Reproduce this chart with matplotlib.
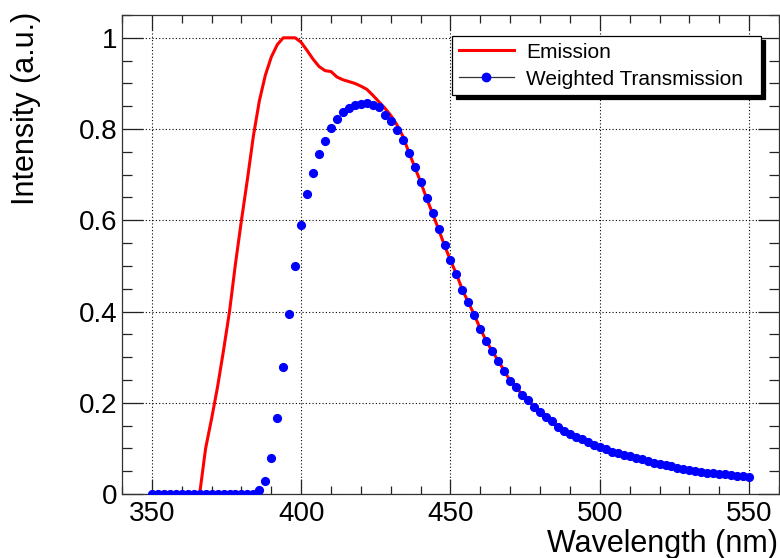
import numpy as np
import matplotlib
matplotlib.use("Agg")
import matplotlib.pyplot as plt
from matplotlib.lines import Line2D
from matplotlib.ticker import MultipleLocator

plt.rcParams['font.family'] = ['Liberation Sans', 'DejaVu Sans']

# ---- data ----
em_wl = [350, 366, 368, 370, 372, 374, 376, 378, 380, 382, 384, 386, 388, 390,
         392, 394, 396, 398, 400, 402, 404, 406, 408, 410, 412, 414, 416, 418,
         420, 422, 424, 426, 428, 430, 432, 434, 436, 438, 440, 442, 444, 446,
         448, 450, 452, 454, 456, 458, 460, 462, 464, 466, 468, 470, 472, 474,
         476, 478, 480, 482, 484, 486, 488, 490, 492, 494, 496, 498, 500, 502,
         504, 506, 508, 510, 512, 514, 516, 518, 520, 522, 524, 526, 528, 530,
         532, 534, 536, 538, 540, 542, 544, 546, 548, 550]
em_val = [0.0, 0.0, 0.100, 0.165, 0.235, 0.315, 0.400, 0.505, 0.600, 0.690,
          0.785, 0.862, 0.918, 0.958, 0.985, 1.000, 1.000, 1.000, 0.990, 0.972,
          0.953, 0.937, 0.928, 0.926, 0.914, 0.908, 0.904, 0.900, 0.894, 0.887,
          0.874, 0.860, 0.846, 0.830, 0.810, 0.785, 0.750, 0.717, 0.684, 0.648,
          0.615, 0.580, 0.545, 0.512, 0.482, 0.447, 0.420, 0.392, 0.362, 0.335,
          0.313, 0.292, 0.270, 0.248, 0.235, 0.217, 0.206, 0.191, 0.179, 0.168,
          0.159, 0.146, 0.139, 0.132, 0.125, 0.121, 0.114, 0.108, 0.103, 0.099,
          0.093, 0.090, 0.086, 0.083, 0.079, 0.076, 0.072, 0.069, 0.066, 0.063,
          0.061, 0.058, 0.055, 0.053, 0.051, 0.049, 0.047, 0.046, 0.044, 0.043,
          0.041, 0.040, 0.039, 0.037]

tr_wl = list(range(350, 551, 2))
tr_val = [0.0] * 18 + [
    0.008, 0.028, 0.079, 0.166, 0.278, 0.394, 0.500, 0.590, 0.657, 0.704,
    0.746, 0.773, 0.802, 0.822, 0.838, 0.846, 0.853, 0.855, 0.857, 0.853,
    0.849, 0.831, 0.818, 0.798, 0.775, 0.748, 0.717, 0.684, 0.648, 0.615,
    0.580, 0.545, 0.512, 0.482, 0.447, 0.420, 0.392, 0.362, 0.335, 0.313,
    0.292, 0.270, 0.248, 0.235, 0.217, 0.206, 0.191, 0.179, 0.168, 0.159,
    0.146, 0.139, 0.132, 0.125, 0.121, 0.114, 0.108, 0.103, 0.099, 0.093,
    0.090, 0.086, 0.083, 0.079, 0.076, 0.072, 0.069, 0.066, 0.063, 0.061,
    0.058, 0.055, 0.053, 0.051, 0.049, 0.047, 0.046, 0.044, 0.043, 0.041,
    0.040, 0.039, 0.037]

x_ticks = [350, 400, 450, 500, 550]
x_ticklabels = ["350", "400", "450", "500", "550"]
y_ticks = [0, 0.2, 0.4, 0.6, 0.8, 1.0]
y_ticklabels = ["0", "0.2", "0.4", "0.6", "0.8", "1"]
legend_labels = ["Emission", "Weighted Transmission"]
x_title = "Wavelength (nm)"
y_title = "Intensity (a.u.)"

# ---- figure ----
W, H = 780, 558
fig = plt.figure(figsize=(W / 100, H / 100), dpi=100)
ax = fig.add_axes([122 / W, 64 / H, 657 / W, 479 / H])

line_em, = ax.plot(em_wl, em_val, color='#ff0000', lw=2.2, zorder=3)
ax.plot(tr_wl, tr_val, ls='none', marker='o', ms=5.6, color='#0000ff',
        mec='#0000ff', zorder=4)

ax.set_xlim(340, 560)
ax.set_ylim(0, 1.05)

ax.set_xticks(x_ticks)
ax.set_xticklabels(x_ticklabels)
ax.set_yticks(y_ticks)
ax.set_yticklabels(y_ticklabels)
ax.xaxis.set_minor_locator(MultipleLocator(10))
ax.yaxis.set_minor_locator(MultipleLocator(0.05))

ax.tick_params(axis='both', which='both', direction='in', top=True, right=True,
               colors='#222222', labelcolor='black', width=0.9)
ax.tick_params(axis='x', which='major', length=11, labelsize=20, pad=5)
ax.tick_params(axis='x', which='minor', length=6)
ax.tick_params(axis='y', which='major', length=15, labelsize=20, pad=3)
ax.tick_params(axis='y', which='minor', length=7.5)

for s in ax.spines.values():
    s.set_color('#333333')
    s.set_linewidth(0.9)

ax.grid(True, which='major', color='black', linestyle=(0, (1, 2)), lw=0.8)

ax.set_xlabel(x_title, fontsize=22, loc='right')
ax.xaxis.set_label_coords((778 - 122) / 657, (494 - 529) / 479)
ax.set_ylabel(y_title, fontsize=22, loc='top')
ax.yaxis.set_label_coords((41 - 122) / 657, (494 - 12) / 479)

tr_handle = Line2D([], [], color='#333333', lw=0.9, marker='o', ms=6,
                   mfc='#0000ff', mec='#0000ff')
leg = ax.legend([line_em, tr_handle], legend_labels, fontsize=15,
                loc='upper left',
                bbox_to_anchor=(452 / W, (558 - 96) / H, 309 / W, 60 / H),
                bbox_transform=fig.transFigure, mode='expand',
                borderaxespad=0, borderpad=0.32, labelspacing=0.38,
                handlelength=2.65, handletextpad=0.6, fancybox=False,
                framealpha=1, edgecolor='black',
                shadow={'ox': 3, 'oy': -3, 'facecolor': 'black',
                        'edgecolor': 'black', 'alpha': 1})
leg.get_frame().set_linewidth(0.9)
leg.set_zorder(10)

fig.savefig("out.png", dpi=100)
